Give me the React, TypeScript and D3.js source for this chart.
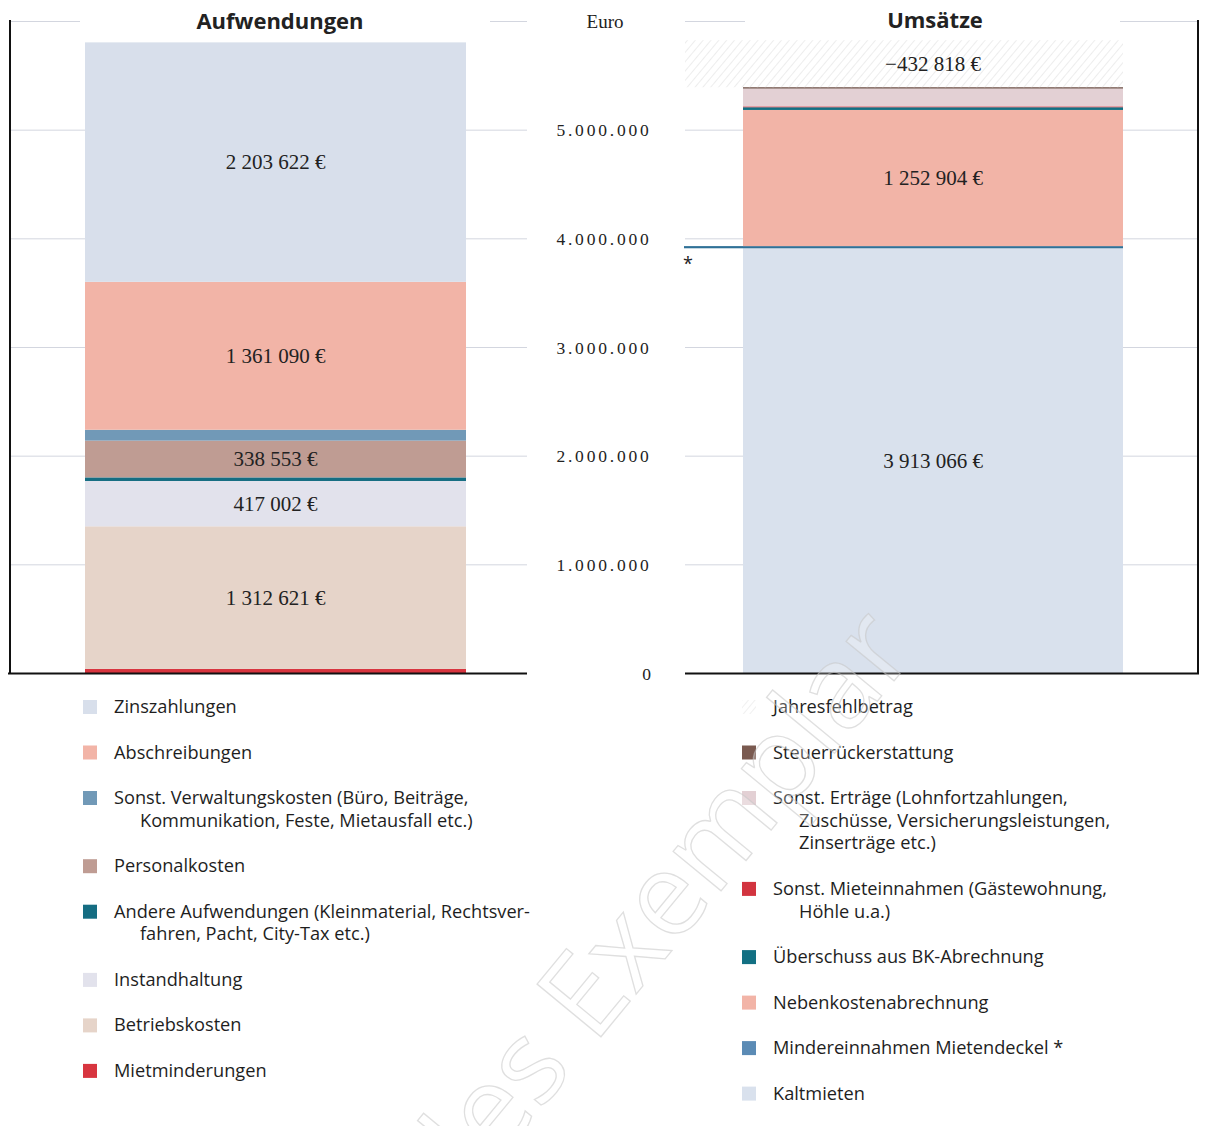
import React from 'react'
import * as d3 from 'd3'

// Aufwendungen (bottom -> top)
const costNames = ['Mietminderungen', 'Betriebskosten', 'Instandhaltung', 'Andere Aufwendungen', 'Personalkosten', 'Sonst. Verwaltungskosten', 'Abschreibungen', 'Zinszahlungen']
const costValues = [42000, 1312621, 417002, 33000, 338553, 100000, 1361090, 2203622]
const costColors = ['#d8353f', '#e6d4c9', '#e2e2ec', '#156d82', '#bf9c93', '#7199b7', '#f2b4a7', '#d8dfeb']
const costLabeled = [false, true, true, false, true, false, true, true]

// Umsätze (bottom -> top)
const incNames = ['Kaltmieten', 'Mindereinnahmen Mietendeckel', 'Nebenkostenabrechnung', 'Überschuss aus BK-Abrechnung', 'Sonst. Mieteinnahmen', 'Sonst. Erträge', 'Steuerrückerstattung', 'Jahresfehlbetrag']
const incValues = [3913066, 20000, 1252904, 25000, 8000, 164000, 12000, -432818]
const incColors = ['#d9e1ed', '#2f7197', '#f2b4a7', '#127083', '#d2343f', '#e3d0d4', '#6e5047', 'hatch']
const incLabeled = [true, false, true, false, false, false, false, true]

const yTicks = [0, 1000000, 2000000, 3000000, 4000000, 5000000, 6000000]

const costLegend = [
  { color: '#d8dfeb', lines: ['Zinszahlungen'] },
  { color: '#f2b4a7', lines: ['Abschreibungen'] },
  { color: '#7199b7', lines: ['Sonst. Verwaltungskosten (Büro, Beiträge,', 'Kommunikation, Feste, Mietausfall etc.)'] },
  { color: '#bf9c93', lines: ['Personalkosten'] },
  { color: '#156d82', lines: ['Andere Aufwendungen (Kleinmaterial, Rechtsver-', 'fahren, Pacht, City-Tax etc.)'] },
  { color: '#e2e2ec', lines: ['Instandhaltung'] },
  { color: '#e6d4c9', lines: ['Betriebskosten'] },
  { color: '#d8353f', lines: ['Mietminderungen'] },
]
const incLegend = [
  { color: 'hatch', lines: ['Jahresfehlbetrag'] },
  { color: '#7a5a50', lines: ['Steuerrückerstattung'] },
  { color: '#e3d0d4', lines: ['Sonst. Erträge (Lohnfortzahlungen,', 'Zuschüsse, Versicherungsleistungen,', 'Zinserträge etc.)'] },
  { color: '#d2343f', lines: ['Sonst. Mieteinnahmen (Gästewohnung,', 'Höhle u.a.)'] },
  { color: '#127083', lines: ['Überschuss aus BK-Abrechnung'] },
  { color: '#f2b4a7', lines: ['Nebenkostenabrechnung'] },
  { color: '#5b8bb5', lines: ['Mindereinnahmen Mietendeckel *'] },
  { color: '#d9e1ed', lines: ['Kaltmieten'] },
]

const W = 1222
const H = 1134
const serif = '"Liberation Serif", "DejaVu Serif", serif'
const sans = '"Open Sans", "Noto Sans", sans-serif'

function stack(values) {
  let acc = 0
  return values.map(v => {
    const a = Math.abs(v)
    const s = { y0: acc, y1: acc + a }
    acc += a
    return s
  })
}

const euro = v => d3.format(',')(v).replace(/,/g, ' ') + ' €'

function Legend({ items, x, y0 }) {
  let y = y0
  const rows = items.map((it, i) => {
    const row = (
      <g key={i} transform={`translate(${x},${y})`}>
        {it.color === 'hatch'
          ? <rect x={0} y={-7} width={14} height={14} fill="url(#hatchLight)" />
          : <rect x={0} y={-7} width={14} height={14} fill={it.color} />}
        {it.lines.map((l, j) => (
          <text key={j} x={j === 0 ? 31 : 57} y={6 + j * 22.7} fontFamily={sans} fontSize={18.2} fill="#1e1e1e">{l}</text>
        ))}
      </g>
    )
    y += 45.5 + 22.7 * (it.lines.length - 1)
    return row
  })
  return <g>{rows}</g>
}

export default function App() {
  const y = d3.scaleLinear().domain([0, 6000000]).range([673.5, 21.5])
  const costStack = stack(costValues)
  const incStack = stack(incValues)
  const left = { x0: 10, x1: 527, b0: 85, b1: 466 }
  const right = { x0: 685, x1: 1198, b0: 743, b1: 1123 }
  const meanX = (a, b) => (a + b) / 2

  return (
    <svg width={W} height={H} style={{ display: 'block', margin: '-8px' }}>
      <defs>
        <pattern id="hatch" width={6} height={6} patternUnits="userSpaceOnUse" patternTransform="rotate(40)">
          <line x1={0} y1={0} x2={0} y2={6} stroke="#e6e6e6" strokeWidth={1.4} />
        </pattern>
        <pattern id="hatchLight" width={5} height={5} patternUnits="userSpaceOnUse" patternTransform="rotate(40)">
          <line x1={0} y1={0} x2={0} y2={5} stroke="#eaeaea" strokeWidth={1.4} />
        </pattern>
      </defs>
      <rect width={W} height={H} fill="#fff" />
      <line x1={60} x2={1160} y1={1} y2={1} stroke="#f3d6d6" strokeWidth={2} />

      {/* gridlines */}
      {yTicks.map(t => (
        <g key={t}>
          <line x1={left.x0} x2={left.x1} y1={y(t)} y2={y(t)} stroke="#d3d6df" strokeWidth={1} />
          <line x1={right.x0} x2={right.x1} y1={y(t)} y2={y(t)} stroke="#d3d6df" strokeWidth={1} />
        </g>
      ))}

      {/* titles, with white knock-out */}
      <rect x={80} y={4} width={410} height={34} fill="#fff" />
      <rect x={745} y={4} width={375} height={34} fill="#fff" />
      <text x={280} y={29} textAnchor="middle" fontFamily={sans} fontWeight={700} fontSize={22} fill="#222">Aufwendungen</text>
      <text x={935} y={28} textAnchor="middle" fontFamily={sans} fontWeight={700} fontSize={22} fill="#222">Umsätze</text>
      <text x={605} y={28} textAnchor="middle" fontFamily={serif} fontSize={19} fill="#222">Euro</text>

      {/* tick labels */}
      {yTicks.filter(t => t < 6000000).map(t => (
        <text key={t} x={t === 0 ? 648 : 604} y={y(t) + 6} textAnchor="middle" fontFamily={serif} fontSize={17.5} letterSpacing={2.8} fill="#222">
          {d3.format(',')(t).replace(/,/g, '.')}
        </text>
      ))}

      {/* Aufwendungen bar */}
      {costValues.map((v, i) => (
        <rect key={i} x={left.b0} width={left.b1 - left.b0} y={y(costStack[i].y1)} height={y(costStack[i].y0) - y(costStack[i].y1)} fill={costColors[i]} />
      ))}
      {costValues.map((v, i) => costLabeled[i] && (
        <text key={i} x={meanX(left.b0, left.b1)} y={y((costStack[i].y0 + costStack[i].y1) / 2) + 7} textAnchor="middle" fontFamily={serif} fontSize={21} fill="#222">{euro(v)}</text>
      ))}

      {/* Umsätze bar */}
      {incValues.map((v, i) => {
        const s = incStack[i]
        if (incColors[i] === 'hatch') {
          return <rect key={i} x={right.x0} width={right.b1 - right.x0} y={y(s.y1)} height={y(s.y0) - y(s.y1)} fill="url(#hatch)" />
        }
        const x0 = incNames[i] === 'Mindereinnahmen Mietendeckel' ? right.x0 - 1 : right.b0
        return <rect key={i} x={x0} width={right.b1 - x0} y={y(s.y1)} height={y(s.y0) - y(s.y1)} fill={incColors[i]} />
      })}
      {incValues.map((v, i) => incLabeled[i] && (
        <text key={i} x={meanX(right.b0, right.b1)} y={y((incStack[i].y0 + incStack[i].y1) / 2) + 7} textAnchor="middle" fontFamily={serif} fontSize={21} fill="#222">{euro(v)}</text>
      ))}
      <text x={688} y={y(incStack[1].y0) + 22} textAnchor="middle" fontFamily={sans} fontSize={18} fill="#222">*</text>

      {/* frames */}
      <line x1={10} x2={10} y1={20} y2={y(0)} stroke="#111" strokeWidth={2} />
      <line x1={7} x2={527} y1={y(0)} y2={y(0)} stroke="#111" strokeWidth={2} />
      <line x1={1198} x2={1198} y1={20} y2={y(0)} stroke="#111" strokeWidth={2} />
      <line x1={685} x2={1199} y1={y(0)} y2={y(0)} stroke="#111" strokeWidth={2} />

      {/* legends */}
      <Legend items={costLegend} x={83} y0={707} />
      <Legend items={incLegend} x={742} y0={707} />

      {/* watermark */}
      <text x={918} y={652} textAnchor="end" transform="rotate(-50.5 918 652)" fontFamily={sans} fontSize={116}
        fill="#fff" fillOpacity={0.25} stroke="#c4c4c4" strokeOpacity={0.55} strokeWidth={1.3}>Digitales Exemplar</text>
    </svg>
  )
}
